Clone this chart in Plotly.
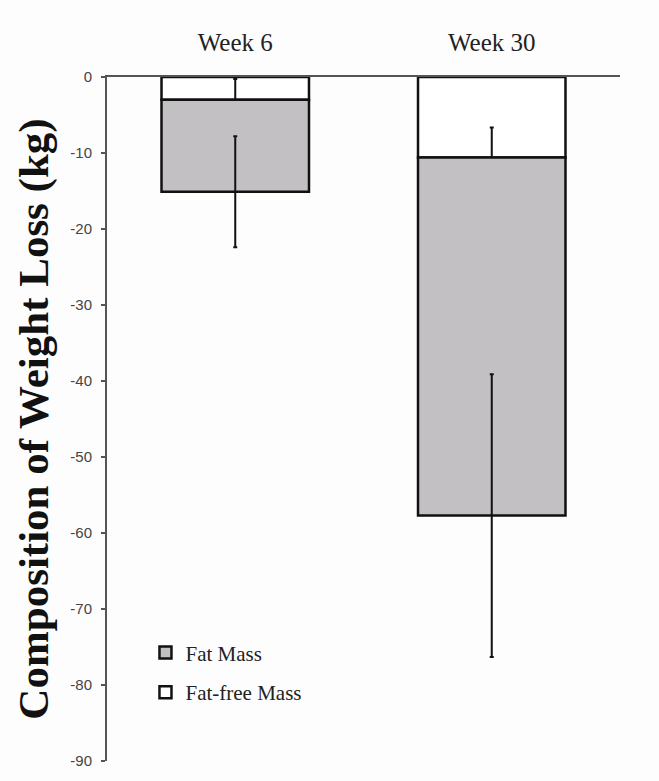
import plotly.graph_objects as go

categories = ["Week 6", "Week 30"]
fat_free_mass = [-3.0, -10.6]
fat_free_err = [2.75, 3.95]
fat_mass = [-12.1, -47.1]
fat_mass_err = [7.3, 18.6]
y_tick_vals = [0, -10, -20, -30, -40, -50, -60, -70, -80, -90]
y_tick_text = ["0", "-10", "-20", "-30", "-40", "-50", "-60", "-70", "-80", "-90"]

fig = go.Figure()
fig.add_trace(go.Bar(
    x=categories, y=fat_free_mass, name="Fat-free Mass",
    marker=dict(color="#FFFFFF", line=dict(color="#111111", width=2.5)),
    error_y=dict(type="data", array=fat_free_err, visible=True,
                 color="#111111", thickness=2, width=2),
    width=0.575, legend="legend2",
))
fig.add_trace(go.Bar(
    x=categories, y=fat_mass, name="Fat Mass",
    marker=dict(color="#C3C0C3", line=dict(color="#111111", width=2.5)),
    error_y=dict(type="data", array=fat_mass_err, visible=True,
                 color="#111111", thickness=2, width=2),
    width=0.575, legend="legend",
))

legend_font = dict(family="Liberation Serif, Times New Roman, serif", size=21, color="#222222")
fig.update_layout(
    width=659, height=781,
    barmode="relative",
    paper_bgcolor="#FDFDFD", plot_bgcolor="#FDFDFD",
    margin=dict(l=107, r=39, t=77, b=16),
    showlegend=True,
    legend=dict(x=0.075, y=0.158, xanchor="left", yanchor="middle",
                font=legend_font, bgcolor="rgba(0,0,0,0)", itemwidth=30),
    legend2=dict(x=0.075, y=0.1, xanchor="left", yanchor="middle",
                 font=legend_font, bgcolor="rgba(0,0,0,0)", itemwidth=30),
    xaxis=dict(
        side="top", range=[-0.5, 1.5], showline=True, linecolor="#555555", linewidth=2,
        showgrid=False, zeroline=False, ticks="",
        tickfont=dict(family="Liberation Serif, Times New Roman, serif", size=25, color="#222222"),
        ticklabelstandoff=14,
    ),
    yaxis=dict(
        range=[-90, 0], showline=True, linecolor="#555555", linewidth=2,
        showgrid=False, zeroline=False,
        ticks="outside", ticklen=4, tickwidth=2, tickcolor="#555555",
        tickvals=y_tick_vals, ticktext=y_tick_text, ticklabelstandoff=6,
        tickfont=dict(family="Liberation Sans Narrow, Liberation Sans, Arial, sans-serif", size=15, color="#444444"),
        title=dict(text="<b>Composition of Weight Loss (kg)</b>", standoff=8,
                   font=dict(family="Liberation Serif, Times New Roman, serif", size=43, color="#111111")),
    ),
)
fig.write_html("out.html")
